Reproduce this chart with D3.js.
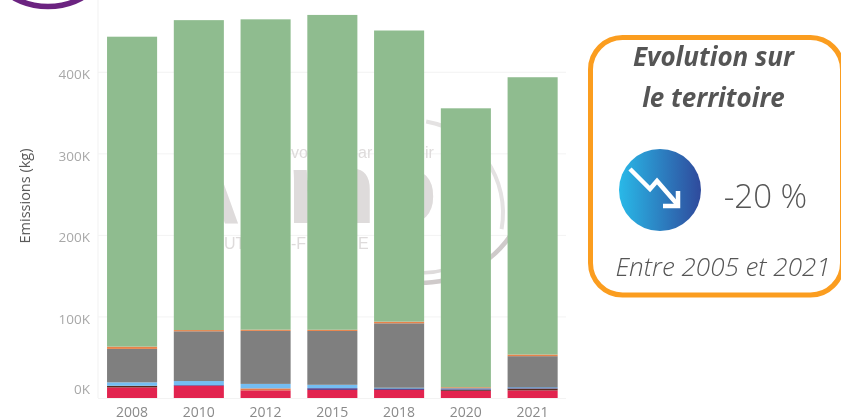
<!DOCTYPE html>
<html>
<head>
<meta charset="utf-8">
<script src="https://cdn.jsdelivr.net/npm/d3@7"></script>
<style>
  html, body { margin: 0; padding: 0; background: #fff; overflow: hidden; }
  svg { display: block; }
</style>
</head>
<body>
<div id="mount"></div>
<script>
'use strict';

// values in thousands of kg
const years = ['2008', '2010', '2012', '2015', '2018', '2020', '2021'];
const red       = [13, 15, 9.4, 10, 10, 8.6, 9.4];
const lowOrange = [0, 0, 2.4, 0, 0, 0, 0];
const brown     = [2, 0, 0, 0, 0, 1, 2];
const navy      = [0, 0.8, 0, 2, 1.2, 1, 0.5];
const steel     = [0, 0, 0, 0, 1.4, 1.4, 1.4];
const skyBlue   = [4.2, 5, 5.5, 4.2, 0, 0, 0];
const gray      = [41, 61, 65, 66, 79, 0, 38];
const orange    = [2.8, 1.5, 1.5, 1.5, 2, 1.2, 2];
const green     = [380, 380, 380.5, 386, 357, 342, 340];

const seriesNames = ['red', 'lowOrange', 'brown', 'navy', 'steel', 'skyBlue', 'gray', 'orange', 'green'];
const seriesValues = [red, lowOrange, brown, navy, steel, skyBlue, gray, orange, green];
const seriesColors = ['#e2244f', '#e8794a', '#5a2a1c', '#4a2a7a', '#5f93c4', '#74bdf2', '#7f7f7f', '#e8834a', '#8fbc8f'];
const yTicks = [0, 100, 200, 300, 400];

const width = 841, height = 418;

const svg = d3.select('#mount').append('svg')
    .attr('width', width)
    .attr('height', height);

const defs = svg.append('defs');
const grad = defs.append('linearGradient').attr('id', 'badge');
grad.append('stop').attr('offset', '0%').attr('stop-color', '#29b9e8');
grad.append('stop').attr('offset', '100%').attr('stop-color', '#2f4a9c');

const x = d3.scaleBand().domain(years).range([98.7, 566]).paddingInner(0.25).paddingOuter(0.125);
const y = d3.scaleLinear().domain([0, 488]).range([398, 0]);

// everything scanned in the source looks slightly soft
const chart = svg.append('g').style('filter', 'blur(0.4px)');

// purple logo ring, cut by the top of the picture
chart.append('circle')
    .attr('cx', 48).attr('cy', -63.5).attr('r', 70)
    .style('fill', 'none').style('stroke', '#6b2380').style('stroke-width', 5.5);

// gridlines and tick labels
const yAxis = chart.append('g')
    .attr('transform', 'translate(98,0)')
    .call(d3.axisLeft(y).tickValues(yTicks).tickFormat(d => d + 'K').tickSize(-468).tickPadding(8));
yAxis.select('.domain').style('stroke', '#f1f1f1').attr('d', 'M0,0V398');
yAxis.selectAll('line').style('stroke', '#f3f3f3');
yAxis.selectAll('text')
    .style('font-family', '"Open Sans", sans-serif')
    .style('font-size', '13.5px')
    .style('fill', '#a8a8a8')
    .attr('dy', d => d === 0 ? '-0.35em' : '0.5em');

// faint watermark behind the bars
const watermark = chart.append('g').style('fill', '#dedbdb').style('font-family', '"Liberation Sans", sans-serif');
const logoLetters = [['A', 174, 92], ['t', 250, 100], ['m', 287, 100], ['o', 376, 100]];
watermark.selectAll('text.big')
    .data(logoLetters)
  .enter().append('text')
    .attr('class', 'big')
    .attr('x', d => d[1])
    .attr('y', 223)
    .style('font-size', d => d[2] + 'px')
    .style('font-weight', 700)
    .text(d => d[0]);
const smallFragments = [['vo', 291, 158], ['ar', 358, 158], ['ir', 425, 158], ['UT', 224, 249], ['-F', 291, 249], ['E', 358, 249]];
watermark.selectAll('text.small')
    .data(smallFragments)
  .enter().append('text')
    .attr('class', 'small')
    .attr('x', d => d[1])
    .attr('y', d => d[2])
    .style('font-size', '16px')
    .text(d => d[0]);
const swooshes = [
  { cx: 420, cy: 173, r: 110, w: 4.5, a0: 125, a1: 190, c: '#cfcaca' },
  { cx: 420, cy: 173, r: 100, w: 3.5, a0: 150, a1: 190, c: '#dedbdb' },
  { cx: 410, cy: 213, r: 93, w: 4, a0: 10, a1: 100, c: '#e4e2e2' }
];
const swooshArc = d3.arc();
chart.selectAll('path.swoosh')
    .data(swooshes)
  .enter().append('path')
    .attr('class', 'swoosh')
    .attr('transform', d => `translate(${d.cx},${d.cy})`)
    .attr('d', d => swooshArc({
      innerRadius: d.r - d.w / 2,
      outerRadius: d.r + d.w / 2,
      startAngle: d.a0 * Math.PI / 180,
      endAngle: d.a1 * Math.PI / 180
    }))
    .style('fill', d => d.c);

// stacked bars
const rows = years.map((year, i) => {
  const row = { year };
  seriesNames.forEach((name, s) => { row[name] = seriesValues[s][i]; });
  return row;
});
const stacked = d3.stack().keys(seriesNames)(rows);

chart.selectAll('g.series')
    .data(stacked)
  .enter().append('g')
    .attr('class', 'series')
    .style('fill', (d, i) => seriesColors[i])
  .selectAll('rect')
    .data(d => d)
  .enter().append('rect')
    .attr('x', d => x(d.data.year))
    .attr('y', d => y(d[1]))
    .attr('width', x.bandwidth())
    .attr('height', d => y(d[0]) - y(d[1]));

// x axis labels
const xAxis = chart.append('g')
    .attr('transform', 'translate(0,398)')
    .call(d3.axisBottom(x).tickSize(0).tickPadding(9));
xAxis.select('.domain').remove();
xAxis.selectAll('text')
    .style('font-family', '"Open Sans", sans-serif')
    .style('font-size', '14px')
    .style('fill', '#8a8a8a');

chart.append('text')
    .attr('transform', 'translate(30,196) rotate(-90)')
    .attr('text-anchor', 'middle')
    .style('font-family', '"Open Sans", sans-serif')
    .style('font-size', '14.5px')
    .style('fill', '#5a5a5a')
    .text('Emissions (kg)');

// orange callout on the right
const panel = svg.append('g').style('filter', 'blur(0.35px)');
panel.append('rect')
    .attr('x', 590.5).attr('y', 37.5).attr('width', 252).attr('height', 257.5).attr('rx', 32)
    .style('fill', '#fff').style('stroke', '#fb9d1f').style('stroke-width', 5);

panel.append('circle')
    .attr('cx', 660).attr('cy', 190).attr('r', 41)
    .style('fill', 'url(#badge)');
panel.append('path')
    .attr('d', 'M630,169L650,189L657,181L677,204')
    .style('fill', 'none').style('stroke', '#fff').style('stroke-width', 4.5);
panel.append('path')
    .attr('d', 'M663,206H678V191')
    .style('fill', 'none').style('stroke', '#fff').style('stroke-width', 4.5);

const panelText = [
  { t: 'Evolution sur', x: 713.5, y: 66, size: 26, weight: 700, italic: true },
  { t: 'le territoire', x: 713.5, y: 107, size: 26, weight: 700, italic: true },
  { t: '-20 %', x: 765.5, y: 208, size: 33, weight: 300, italic: false },
  { t: 'Entre 2005 et 2021', x: 723, y: 276, size: 26, weight: 300, italic: true }
];
panel.selectAll('text')
    .data(panelText)
  .enter().append('text')
    .attr('x', d => d.x)
    .attr('y', d => d.y)
    .attr('text-anchor', 'middle')
    .style('font-family', '"Open Sans", sans-serif')
    .style('font-size', d => d.size + 'px')
    .style('font-weight', d => d.weight)
    .style('font-style', d => d.italic ? 'italic' : 'normal')
    .style('fill', '#555')
    .text(d => d.t);
</script>
</body>
</html>
